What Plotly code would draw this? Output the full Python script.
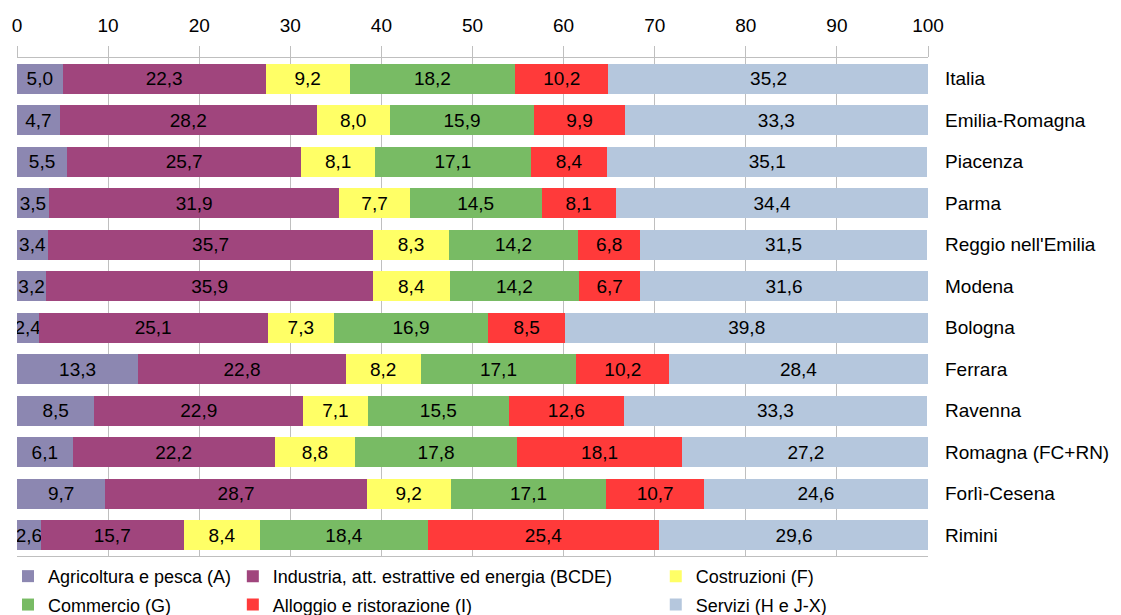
import plotly.graph_objects as go

categories = ["Italia", "Emilia-Romagna", "Piacenza", "Parma", "Reggio nell'Emilia", "Modena",
              "Bologna", "Ferrara", "Ravenna", "Romagna (FC+RN)", "Forlì-Cesena", "Rimini"]

series_names = ["Agricoltura e pesca (A)", "Industria, att. estrattive ed energia (BCDE)",
                "Costruzioni (F)", "Commercio (G)", "Alloggio e ristorazione (I)", "Servizi (H e J-X)"]

agricoltura = [5.0, 4.7, 5.5, 3.5, 3.4, 3.2, 2.4, 13.3, 8.5, 6.1, 9.7, 2.6]
industria = [22.3, 28.2, 25.7, 31.9, 35.7, 35.9, 25.1, 22.8, 22.9, 22.2, 28.7, 15.7]
costruzioni = [9.2, 8.0, 8.1, 7.7, 8.3, 8.4, 7.3, 8.2, 7.1, 8.8, 9.2, 8.4]
commercio = [18.2, 15.9, 17.1, 14.5, 14.2, 14.2, 16.9, 17.1, 15.5, 17.8, 17.1, 18.4]
alloggio = [10.2, 9.9, 8.4, 8.1, 6.8, 6.7, 8.5, 10.2, 12.6, 18.1, 10.7, 25.4]
servizi = [35.2, 33.3, 35.1, 34.4, 31.5, 31.6, 39.8, 28.4, 33.3, 27.2, 24.6, 29.6]

x_ticks = [0, 10, 20, 30, 40, 50, 60, 70, 80, 90, 100]

colors = ["#8C87B1", "#A0457D", "#FFFF66", "#78BB64", "#FF3A3A", "#B5C7DD"]
legend_ids = ["legend", "legend2", "legend3", "legend", "legend2", "legend3"]

FONT = "Liberation Sans, Arial, sans-serif"

# the page body has an 8px margin, so the figure is sized to fit the 1121x615 window
W, H = 1113, 607

fig = go.Figure()
all_series = [agricoltura, industria, costruzioni, commercio, alloggio, servizi]
for i, (name, vals, col, lg) in enumerate(zip(series_names, all_series, colors, legend_ids)):
    fig.add_trace(go.Bar(
        y=categories, x=vals, name=name, orientation="h",
        marker=dict(color=col, line=dict(width=0)),
        text=[f"{v:.1f}".replace(".", ",") for v in vals],
        textposition="inside", insidetextanchor="middle", textangle=0,
        constraintext="none",
        textfont=dict(family=FONT, size=19, color="black"),
        legend=lg, legendgroup=f"g{i}",
    ))

legend_common = dict(orientation="v", yref="container", xref="container",
                     yanchor="top", y=0.094, xanchor="left",
                     font=dict(family=FONT, size=18, color="black"),
                     bgcolor="rgba(0,0,0,0)", tracegroupgap=2, itemsizing="constant",
                     traceorder="grouped")

fig.update_layout(
    barmode="stack",
    bargap=0.28,
    width=W, height=H,
    margin=dict(l=9, r=193, t=50, b=59, autoexpand=False),
    paper_bgcolor="white", plot_bgcolor="white",
    font=dict(family=FONT, size=19, color="black"),
    uniformtext=dict(minsize=19, mode="show"),
    xaxis=dict(side="top", range=[0, 100], tickvals=x_ticks, ticks="outside", ticklen=11,
               tickcolor="#BFBFBF", showgrid=True, gridcolor="#BFBFBF", gridwidth=1,
               showline=True, linecolor="#BFBFBF", mirror=True, zeroline=False,
               ticklabelstandoff=6,
               tickfont=dict(family=FONT, size=19, color="black")),
    yaxis=dict(side="right", autorange="reversed", showgrid=False, ticks="", ticklen=0,
               ticklabelstandoff=16,
               tickfont=dict(family=FONT, size=19, color="black"), showline=False),
    legend=dict(x=0.0, **legend_common),
    legend2=dict(x=0.202, **legend_common),
    legend3=dict(x=0.582, **legend_common),
)

fig.write_html("out.html")
